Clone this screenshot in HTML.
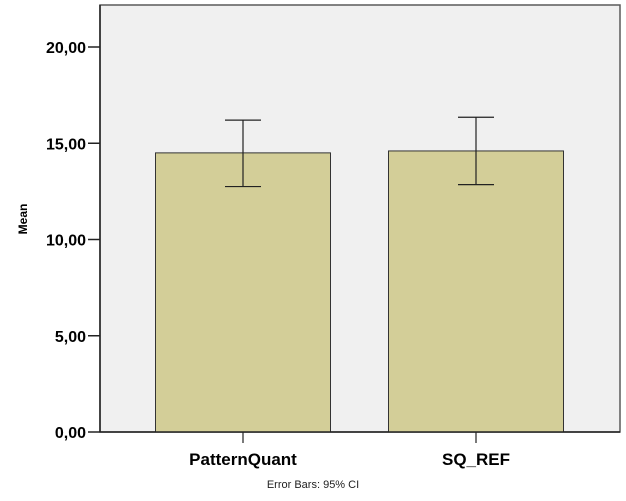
<!DOCTYPE html>
<html><head><meta charset="utf-8"><style>
body{margin:0;background:#fff;font-family:"Liberation Sans",Arial,sans-serif}
svg{display:block}
</style></head><body>
<svg width="626" height="501">
<g id="chart"></g>
</svg>
<script>
const categories=["PatternQuant","SQ_REF"];
const means=[14.5,14.6];
const ciLow=[12.75,12.85];
const ciHigh=[16.2,16.35];
const yTicks=[0,5,10,15,20];
const yTickLabels=["0,00","5,00","10,00","15,00","20,00"];
const NS="http://www.w3.org/2000/svg";
const g=document.getElementById("chart");
const L=100,R=620,T=5,B=432;
const y=v=>B-v*19.25;
const catW=233, x0=243;
const xc=i=>x0+i*catW;
const barW=175;
function el(t,a,p){const e=document.createElementNS(NS,t);for(const k in a)e.setAttribute(k,a[k]);(p||g).appendChild(e);return e;}
const bg=el("rect",{x:L,y:T,width:R-L,height:B-T,fill:"#f0f0f0",stroke:"#5a5a5a","stroke-width":1.5});


categories.forEach((c,i)=>{
  const b=el("rect",{x:xc(i)-barW/2,y:y(means[i]),width:barW,height:B-y(means[i]),fill:"#d3ce98",stroke:"#333","stroke-width":1});
  
  
  const eg=el("g",{stroke:"#222","stroke-width":1.2});
  
  
  el("line",{x1:xc(i),x2:xc(i),y1:y(ciHigh[i]),y2:y(ciLow[i])},eg);
  el("line",{x1:xc(i)-18,x2:xc(i)+18,y1:y(ciHigh[i]),y2:y(ciHigh[i])},eg);
  el("line",{x1:xc(i)-18,x2:xc(i)+18,y1:y(ciLow[i]),y2:y(ciLow[i])},eg);
  el("line",{x1:xc(i),x2:xc(i),y1:B,y2:B+11,stroke:"#222","stroke-width":1.2});
  const t=el("text",{x:xc(i),y:465,"text-anchor":"middle","font-size":17,"font-weight":"bold",fill:"#000"});
  t.textContent=c;
  
  
});
el("line",{x1:L,x2:R,y1:B,y2:B,stroke:"#222","stroke-width":1.5});
el("line",{x1:L,x2:L,y1:T,y2:B,stroke:"#222","stroke-width":1.5});
yTicks.forEach((v,i)=>{
  el("line",{x1:L-12,x2:L,y1:y(v),y2:y(v),stroke:"#222","stroke-width":1.5});
  const t=el("text",{x:L-14,y:y(v)+6,"text-anchor":"end","font-size":16,"font-weight":"bold",fill:"#000"});
  t.textContent=yTickLabels[i];
  
  
});
const yt=el("text",{x:27,y:219,"text-anchor":"middle","font-size":12,"font-weight":"bold",transform:"rotate(-90 27 219)"});
yt.textContent="Mean";


const ft=el("text",{x:313,y:488,"text-anchor":"middle","font-size":11,fill:"#222"});
ft.textContent="Error Bars: 95% CI";


</script>
</body></html>
